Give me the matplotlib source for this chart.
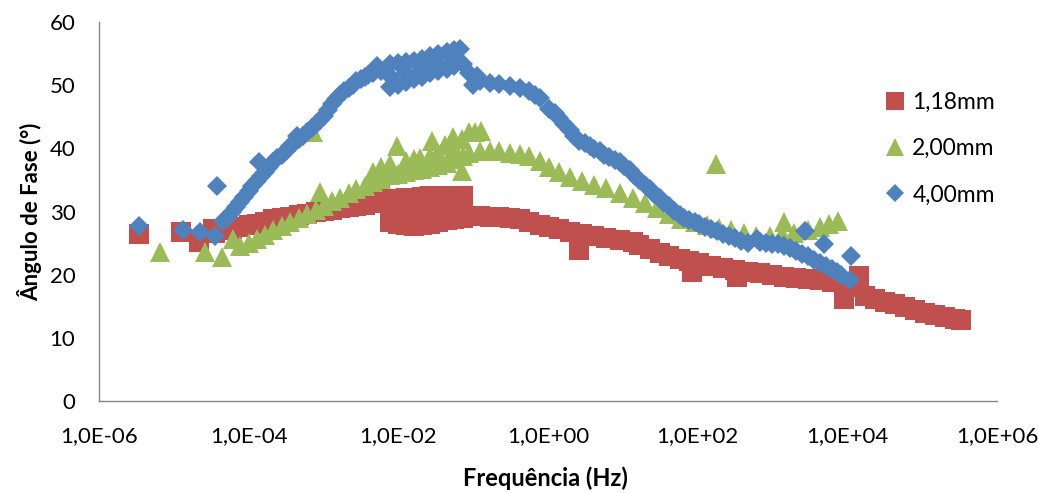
import matplotlib
matplotlib.use("Agg")
import matplotlib.pyplot as plt
import numpy as np

plt.rcParams['font.family'] = ['Lato', 'DejaVu Sans']

# ---------------- data (log10 of frequency in Hz, phase angle in degrees) ----------------
red_logf = [-5.47, -4.90, -4.66, -4.48, -4.45, -4.34, -4.22, -4.12, -4.00, -3.89, -3.78, -3.68,
            -3.56, -3.45, -3.33, -3.22, -3.10, -3.00, -2.89, -2.78, -2.66, -2.56, -2.45, -2.34,
            -2.25, -2.23, -2.11, -2.01, -1.90, -1.79, -1.69, -1.58, -1.47, -1.35, -1.25, -1.14,
            -2.11, -2.01, -1.90, -1.79, -1.69, -1.58, -1.47, -1.35, -1.25, -1.14,
            -2.11, -2.01, -1.90, -1.79, -1.69, -1.58, -1.47, -1.35, -1.25, -1.14,
            -1.05, -0.91, -0.78, -0.65, -0.51, -0.38, -0.25, -0.11, 0.02, 0.15, 0.29, 0.42,
            0.46, 0.62, 0.78, 0.96, 1.13, 1.22, 1.36, 1.49, 1.62, 1.76, 1.89, 1.92, 2.02, 2.18,
            2.34, 2.50, 2.52, 2.67, 2.83, 2.99, 3.15, 3.31, 3.47, 3.63, 3.79, 3.95, 3.96, 4.11,
            4.15, 4.24, 4.37, 4.51, 4.64, 4.77, 4.91, 5.04, 5.17, 5.31, 5.44, 5.52]
red_phase = [26.5, 26.7, 25.2, 27.2, 26.6, 27.0, 27.3, 27.5, 27.8, 28.0, 28.4, 28.8,
             29.0, 29.1, 29.4, 29.6, 29.9, 30.1, 30.3, 30.5, 30.7, 30.9, 31.1, 31.4,
             32.8, 31.6, 31.8, 32.0, 32.1, 32.2, 32.3, 32.4, 32.4, 32.5, 32.5, 32.4,
             28.3, 28.0, 27.8, 27.7, 27.8, 28.0, 28.3, 28.6, 28.8, 29.0,
             30.0, 30.1, 30.2, 30.2, 30.3, 30.4, 30.5, 30.6, 30.8, 30.9,
             29.3, 29.3, 29.2, 29.1, 29.0, 28.8, 28.3, 27.9, 27.5, 27.2, 26.8, 23.9,
             26.4, 26.1, 25.8, 25.5, 25.2, 24.7, 24.0, 23.5, 23.0, 22.5, 22.1, 20.4, 21.8, 21.4,
             21.1, 20.8, 19.6, 20.5, 20.2, 19.9, 19.7, 19.5, 19.3, 19.1, 18.8, 18.4, 16.1, 18.0,
             19.8, 16.6, 16.2, 15.7, 15.3, 14.9, 14.4, 14.0, 13.6, 13.3, 13.0, 12.8]

green_logf = [-5.19, -4.58, -4.36, -4.21, -4.12, -4.00, -3.89, -3.78, -3.68, -3.56, -3.45, -3.33,
              -3.22, -3.14, -3.10, -3.05, -3.00, -2.89, -2.78, -2.66, -2.56, -2.45, -2.34, -2.23,
              -2.11, -2.02, -2.01, -1.90, -1.79, -1.71, -1.69, -1.58, -1.55, -1.47, -1.38, -1.35,
              -1.27, -1.25, -1.15, -1.15, -1.14, -1.05, -1.05, -0.97, -0.91, -0.89, -0.78, -0.65,
              -0.51, -0.38, -0.25, -0.11, 0.02, 0.15, 0.29, 0.46, 0.62, 0.78, 0.96, 1.13, 1.29,
              1.46, 1.62, 1.78, 1.96, 2.12, 2.24, 2.29, 2.45, 2.62, 2.78, 2.96, 3.13, 3.16, 3.29,
              3.47, 3.63, 3.76, 3.87,
              -2.34, -2.23, -2.11, -1.90, -1.79, -1.58, -1.47, -1.25]
green_phase = [23.6, 23.6, 22.8, 25.6, 24.5, 25.0, 25.6, 26.3, 27.0, 27.7, 28.3, 28.9,
               29.6, 42.6, 30.2, 33.1, 30.9, 31.6, 32.2, 32.9, 33.5, 34.1, 34.7, 35.2,
               35.7, 40.3, 36.0, 36.3, 36.5, 38.5, 36.8, 37.0, 41.1, 37.3, 40.5, 37.6,
               41.8, 38.3, 41.5, 36.4, 38.8, 42.6, 39.2, 42.6, 39.5, 42.7, 39.6, 39.5,
               39.3, 39.1, 38.8, 38.0, 37.0, 36.2, 35.5, 34.8, 34.2, 33.7, 33.0, 32.2, 31.4,
               30.5, 29.6, 28.8, 28.3, 27.8, 37.5, 27.4, 27.0, 26.6, 26.2, 26.2, 26.4, 28.3, 26.6,
               27.0, 27.5, 28.0, 28.5,
               36.3, 37.0, 37.5, 38.0, 38.3, 38.8, 39.2, 40.0]

blue_logf = [-5.47, -4.88, -4.65, -4.45, -4.42, -4.34, -4.22, -4.12, -4.00, -3.89, -3.86, -3.78,
             -3.68, -3.56, -3.45, -3.35, -3.33, -3.22, -3.10, -3.00, -2.89, -2.78, -2.66, -2.56,
             -2.45, -2.34, -2.29, -2.23,
             -4.28, -4.17, -4.06, -3.95, -3.83, -3.73, -3.62, -3.50, -3.39, -3.27, -3.16, -3.05,
             -2.94, -2.83, -2.72, -2.61, -2.50, -2.40,
             -2.11, -2.01, -1.90, -1.79, -1.69, -1.58, -1.47, -1.35, -1.25, -1.18,
             -2.11, -1.90, -1.69, -1.47, -1.25,
             -2.11, -2.01, -1.90, -1.79, -1.69, -1.58, -1.47, -1.35, -1.25, -1.14,
             -1.05, -1.00, -0.95, -0.91, -0.78, -0.65, -0.51, -0.38, -0.25, -0.18, -0.11, 0.02,
             0.09, 0.15, 0.22, 0.29, 0.35, 0.42, 0.49, 0.56, 0.62, 0.69, 0.75, 0.82, 0.89, 0.96,
             1.02, 1.09, 1.15, 1.22, 1.29, 1.36, 1.42, 1.49, 1.55, 1.62, 1.69, 1.76, 1.82, 1.89,
             1.96, 2.02, 2.10, 2.18, 2.26, 2.34, 2.42, 2.50, 2.58, 2.67, 2.79, 2.83, 2.91, 2.99,
             3.07, 3.15, 3.23, 3.31, 3.39, 3.43, 3.47, 3.55, 3.63, 3.69, 3.71, 3.79, 3.86, 3.92,
             4.03, 4.05]
blue_phase = [27.7, 27.1, 26.7, 26.1, 34.0, 28.5, 30.0, 31.5, 33.2, 34.9, 37.8, 36.3,
              37.8, 39.0, 40.3, 42.0, 41.4, 42.6, 43.9, 45.1, 47.0, 48.5, 49.6, 50.6,
              51.3, 51.9, 53.0, 52.2,
              29.2, 30.7, 32.3, 34.0, 35.6, 37.0, 38.4, 39.6, 40.9, 42.0, 43.2, 44.5,
              46.0, 47.8, 49.0, 50.1, 51.0, 51.6,
              53.3, 53.5, 53.7, 53.9, 54.2, 54.6, 54.9, 55.2, 55.6, 55.8,
              51.5, 52.0, 52.7, 53.5, 54.3,
              49.7, 50.0, 50.5, 51.0, 51.3, 52.0, 52.2, 52.5, 53.0, 53.4,
              52.0, 50.0, 51.5, 50.6, 50.4, 50.2, 49.9, 49.6, 49.0, 48.5, 47.9, 46.3,
              45.6, 44.8, 43.8, 42.9, 42.0, 41.2, 40.8, 40.3, 39.9, 39.5, 39.0, 38.6, 38.2, 37.8,
              37.2, 36.5, 35.8, 35.0, 34.2, 33.5, 32.8, 32.1, 31.4, 30.8, 30.1, 29.5, 29.0, 28.6,
              28.3, 28.0, 27.6, 27.3, 26.9, 26.5, 26.1, 25.8, 25.4, 25.0, 25.6, 25.2, 25.0, 24.9,
              24.8, 24.6, 24.2, 23.8, 23.3, 26.9, 22.9, 22.4, 21.9, 24.8, 21.4, 20.9, 20.4, 20.0,
              19.2, 22.9]

series_labels = ["1,18mm", "2,00mm", "4,00mm"]
x_tick_exponents = [-6, -4, -2, 0, 2, 4, 6]
x_tick_labels = ["1,0E-06", "1,0E-04", "1,0E-02", "1,0E+00", "1,0E+02", "1,0E+04", "1,0E+06"]
y_ticks = [0, 10, 20, 30, 40, 50, 60]

# ---------------- figure ----------------
W, H = 1038, 493
fig = plt.figure(figsize=(W / 100, H / 100), dpi=100)
ax_l, ax_r, ax_b, ax_t = 99, 997, 401, 22
ax = fig.add_axes([ax_l / W, (H - ax_b) / H, (ax_r - ax_l) / W, (ax_b - ax_t) / H])

red_c, green_c, blue_c = "#C0504D", "#9BBB59", "#4F81BD"

ax.plot(10 ** np.array(red_logf), red_phase, linestyle="none", marker="s", ms=14.5,
        color=red_c, mec=red_c, mew=0, label=series_labels[0])
ax.plot(10 ** np.array(green_logf), green_phase, linestyle="none", marker="^", ms=15,
        color=green_c, mec=green_c, mew=0, label=series_labels[1])
ax.plot(10 ** np.array(blue_logf), blue_phase, linestyle="none", marker="D", ms=10.5,
        color=blue_c, mec=blue_c, mew=0, label=series_labels[2])

ax.set_xscale("log")
ax.set_xlim(10.0 ** x_tick_exponents[0], 10.0 ** x_tick_exponents[-1])
ax.set_ylim(y_ticks[0], y_ticks[-1])
ax.set_xticks([10.0 ** e for e in x_tick_exponents])
ax.set_xticklabels(x_tick_labels)
ax.xaxis.set_minor_locator(matplotlib.ticker.NullLocator())
ax.set_yticks(y_ticks)
ax.set_yticklabels([str(v) for v in y_ticks])
ax.tick_params(axis="both", length=0, labelsize=16, colors="black")
ax.tick_params(axis="y", pad=17)
ax.tick_params(axis="x", pad=18)

for s in ["top", "right"]:
    ax.spines[s].set_visible(False)
for s in ["left", "bottom"]:
    ax.spines[s].set_color("#868686")
    ax.spines[s].set_linewidth(1.0)

fig.text(30 / W, 1 - 212 / H, "Ângulo de Fase (°)", rotation=90, ha="center", va="center",
         fontsize=16, fontweight="bold")
fig.text(545 / W, 1 - 478 / H, "Frequência (Hz)", ha="center", va="center",
         fontsize=17, fontweight="bold")

fig.legend(loc="upper left", bbox_to_anchor=(886 / W, 1 - 92 / H), frameon=False,
           fontsize=16.5, handlelength=0.75, handletextpad=0.4, labelspacing=1.1,
           borderpad=0, borderaxespad=0, markerscale=0.9)

fig.savefig("out.png", dpi=100)
